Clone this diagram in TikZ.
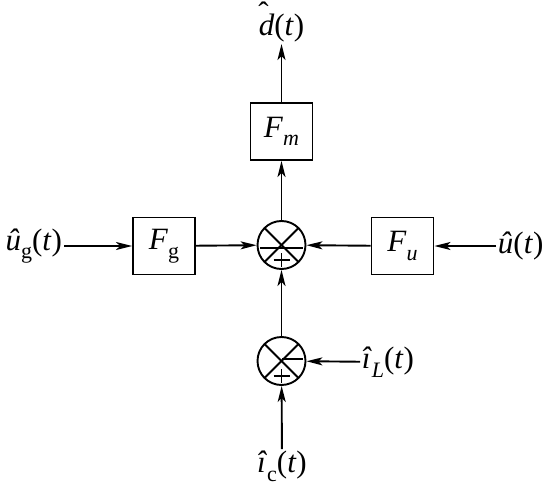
\documentclass[tikz,border=0pt]{standalone}
\usepackage{fontspec}
\setmainfont{Liberation Serif}
\usetikzlibrary{arrows.meta}
\newcommand\lsub[1]{\raisebox{-0.28em}{\fontsize{22}{22}\selectfont #1}}
\newcommand\hatd{\textit{d}\llap{\raisebox{0.40em}{\char"02C6}\hspace{0.18em}}}
\begin{document}
\begin{tikzpicture}[x=1pt,y=-1pt,
  line width=1.9pt,
  every node/.style={font=\fontsize{31}{31}\selectfont},
  blk/.style={draw,minimum width=62pt,minimum height=57pt,inner sep=0pt},
  sumj/.style={draw,circle,minimum size=48pt,inner sep=0pt},
  lbl/.style={inner sep=1pt},
  conn/.style={-{Stealth[length=16pt,width=8pt,inset=4pt]}}]
\useasboundingbox (0,0) rectangle (545,486);
\node[blk] (fm) at (281.5,131.5) {\textit{F}\lsub{\textit{m}}};
\node[blk] (fg) at (164,246) {\textit{F}\lsub{g}};
\node[blk] (fu) at (402.5,246) {\textit{F}\lsub{\textit{u}}};
\node[sumj] (s1) at (281.5,245) {};
\node[sumj] (s2) at (281.5,361) {};
\node[lbl,anchor=south] (d) at (281.5,44) {\hatd(\textit{t})};
\node[lbl,anchor=east] (ug) at (64,246) {\textit{\^u}\lsub{g}(\textit{t})};
\node[lbl,anchor=west] (u) at (496,246) {\textit{\^u}(\textit{t})};
\node[lbl,anchor=west] (il) at (360,362) {\textit{\^i}\lsub{\textit{L}}(\textit{t})};
\node[lbl,anchor=north] (ic) at (282,449) {\textit{\^i}\lsub{c}(\textit{t})};
% junction marks
\foreach \cy/\my in {245/3,361/-2}{
  \draw (257.5,\cy-24) ++(7,7) -- ++(34,34);
  \draw (305.5,\cy-24) ++(-7,7) -- ++(-34,34);
  \draw (282,\cy+\my) -- (303,\cy+\my);
  \draw (273.5,\cy+15) -- (289.5,\cy+15);
  \draw (281.5,\cy+8) -- (281.5,\cy+22);
}
\draw (260,248) -- (282,248);
% connectors
\draw[conn] (fm) -- (d);
\draw[conn] (s1) -- (fm);
\draw[conn] (ug) -- (fg);
\draw[conn] (fg) -- (s1);
\draw[conn] (u) -- (fu);
\draw[conn] (fu) -- (s1);
\draw[conn] (s2) -- (s1);
\draw[conn] (il) -- (s2);
\draw[conn] (ic) -- (s2);
\end{tikzpicture}
\end{document}
